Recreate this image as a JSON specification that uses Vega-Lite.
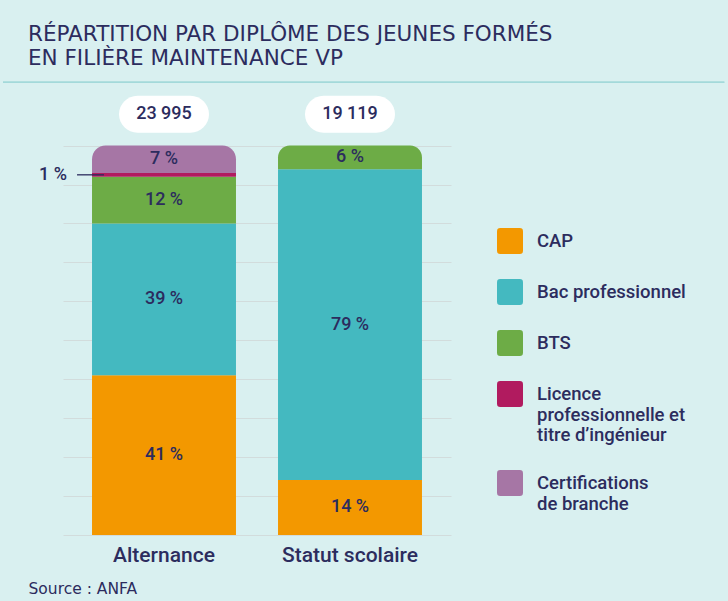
{
  "$schema": "https://vega.github.io/schema/vega-lite/v6.json",
  "autosize": {"type": "none"},
  "width": 388,
  "height": 440,
  "padding": {"left": 63, "top": 95, "right": 277, "bottom": 66},
  "background": "#d9f0f0",
  "config": {
    "view": {"stroke": null},
    "locale": {"number": {"decimal": ",", "thousands": " ", "grouping": [3], "currency": ["", " €"]}}
  },
  "title": {
    "text": ["RÉPARTITION PAR DIPLÔME DES JEUNES FORMÉS", "EN FILIÈRE MAINTENANCE VP"],
    "anchor": "start",
    "frame": "group",
    "dx": -35,
    "offset": 12,
    "font": "DejaVu Sans",
    "fontSize": 21.5,
    "fontWeight": "normal",
    "color": "#2c2c5e",
    "lineHeight": 24
  },
  "data": {
    "values": [
      {"statut": "Alternance", "diplome": "CAP", "rang": 1, "pct": 41, "effectif": 23995},
      {"statut": "Alternance", "diplome": "Bac professionnel", "rang": 2, "pct": 39, "effectif": 23995},
      {"statut": "Alternance", "diplome": "BTS", "rang": 3, "pct": 12, "effectif": 23995},
      {"statut": "Alternance", "diplome": "Licence professionnelle et titre d’ingénieur", "rang": 4, "pct": 1, "effectif": 23995},
      {"statut": "Alternance", "diplome": "Certifications de branche", "rang": 5, "pct": 7, "effectif": 23995},
      {"statut": "Statut scolaire", "diplome": "CAP", "rang": 1, "pct": 14, "effectif": 19119},
      {"statut": "Statut scolaire", "diplome": "Bac professionnel", "rang": 2, "pct": 79, "effectif": 19119},
      {"statut": "Statut scolaire", "diplome": "BTS", "rang": 3, "pct": 6, "effectif": 19119}
    ]
  },
  "transform": [
    {"stack": "pct", "groupby": ["statut"], "sort": [{"field": "rang", "order": "ascending"}], "as": ["y0", "y1"], "offset": "normalize"},
    {"joinaggregate": [{"op": "max", "field": "rang", "as": "maxrang"}], "groupby": ["statut"]},
    {"calculate": "(datum.y0 + datum.y1) / 2", "as": "mid"},
    {"calculate": "datum.pct + ' %'", "as": "lbl"}
  ],
  "encoding": {
    "x": {
      "field": "statut",
      "type": "nominal",
      "scale": {"paddingInner": 0.226, "paddingOuter": 0.156},
      "axis": {
        "labelAngle": 0,
        "labelFont": "Roboto",
        "labelFontSize": 21,
        "labelFontWeight": 500,
        "labelColor": "#2c2c5e",
        "labelPadding": 9,
        "ticks": false,
        "domain": false,
        "title": "Source : ANFA",
        "titleX": -35,
        "titleY": 58,
        "titleAlign": "left",
        "titleAnchor": "start",
        "titleBaseline": "alphabetic",
        "titleFont": "DejaVu Sans",
        "titleFontSize": 15.5,
        "titleFontWeight": "normal",
        "titleColor": "#2c2c5e"
      }
    }
  },
  "layer": [
    {
      "mark": {"type": "bar"},
      "transform": [{"filter": "datum.rang < datum.maxrang"}],
      "encoding": {
        "y": {
          "field": "y0",
          "type": "quantitative",
          "scale": {"domain": [0, 1.13], "nice": false},
          "axis": {"values": [0, 0.1, 0.2, 0.3, 0.4, 0.5, 0.6, 0.7, 0.8, 0.9, 1], "labels": false, "ticks": false, "domain": false, "title": null, "grid": true, "gridColor": "#d2dcdc", "gridWidth": 1.2}
        },
        "y2": {"field": "y1"},
        "color": {
          "field": "diplome",
          "type": "nominal",
          "scale": {
            "domain": ["CAP", "Bac professionnel", "BTS", "Licence professionnelle et titre d’ingénieur", "Certifications de branche"],
            "range": ["#f39800", "#44b9c0", "#6dac46", "#b11b5f", "#a676a5"]
          },
          "legend": {
            "orient": "none",
            "legendX": 434,
            "legendY": 133,
            "title": null,
            "symbolType": "M-0.75,-1L0.75,-1Q1,-1,1,-0.75L1,0.75Q1,1,0.75,1L-0.75,1Q-1,1,-1,0.75L-1,-0.75Q-1,-1,-0.75,-1Z",
            "symbolSize": 676,
            "symbolStrokeWidth": 0,
            "symbolOpacity": 1,
            "labelFont": "Roboto",
            "labelFontSize": 18.5,
            "labelFontWeight": 500,
            "labelColor": "#2c2c5e",
            "labelOffset": 14,
            "labelLimit": 300,
            "rowPadding": 25,
            "labelExpr": "datum.label == 'Licence professionnelle et titre d’ingénieur' ? ['Licence', 'professionnelle et', 'titre d’ingénieur'] : datum.label == 'Certifications de branche' ? ['Certifications', 'de branche'] : datum.label"
          }
        }
      }
    },
    {
      "mark": {"type": "bar", "cornerRadiusTopLeft": 14, "cornerRadiusTopRight": 14},
      "transform": [{"filter": "datum.rang == datum.maxrang"}],
      "encoding": {
        "y": {"field": "y0", "type": "quantitative"},
        "y2": {"field": "y1"},
        "color": {"field": "diplome", "type": "nominal"}
      }
    },
    {
      "mark": {"type": "text", "font": "Roboto", "fontSize": 18, "fontWeight": 500, "color": "#2c2c5e", "baseline": "middle"},
      "transform": [{"filter": "datum.pct > 1"}],
      "encoding": {
        "y": {"field": "mid", "type": "quantitative"},
        "text": {"field": "lbl"}
      }
    },
    {
      "mark": {"type": "text", "font": "Roboto", "fontSize": 18, "fontWeight": 500, "color": "#2c2c5e", "baseline": "middle", "dx": -111},
      "transform": [{"filter": "datum.pct == 1"}],
      "encoding": {
        "y": {"field": "mid", "type": "quantitative"},
        "text": {"field": "lbl"}
      }
    },
    {
      "mark": {"type": "rule", "color": "#2c2c5e", "strokeWidth": 1.3},
      "transform": [{"filter": "datum.pct == 1"}],
      "encoding": {
        "x": {"field": "statut", "type": "nominal", "bandPosition": -0.104},
        "x2": {"field": "statut", "bandPosition": 0.083},
        "y": {"field": "mid", "type": "quantitative"}
      }
    },
    {
      "mark": {"type": "bar", "color": "#ffffff", "cornerRadius": 18.5, "width": {"band": 0.625}},
      "transform": [{"filter": "datum.rang == 1"}],
      "encoding": {
        "y": {"datum": 1.033, "type": "quantitative"},
        "y2": {"datum": 1.128}
      }
    },
    {
      "mark": {"type": "text", "font": "Roboto", "fontSize": 18, "fontWeight": 500, "color": "#2c2c5e", "baseline": "middle"},
      "transform": [{"filter": "datum.rang == 1"}],
      "encoding": {
        "y": {"datum": 1.081, "type": "quantitative"},
        "text": {"field": "effectif", "type": "quantitative", "format": ",.0f"}
      }
    },
    {
      "mark": {"type": "rule", "color": "#a3d9da", "strokeWidth": 1.5},
      "transform": [{"filter": "datum.rang == 1"}],
      "encoding": {
        "x": {"datum": "Alternance", "type": "nominal", "bandPosition": -0.618},
        "x2": {"datum": "Statut scolaire", "bandPosition": 3.1},
        "y": {"datum": 1.163, "type": "quantitative"}
      }
    }
  ]
}
